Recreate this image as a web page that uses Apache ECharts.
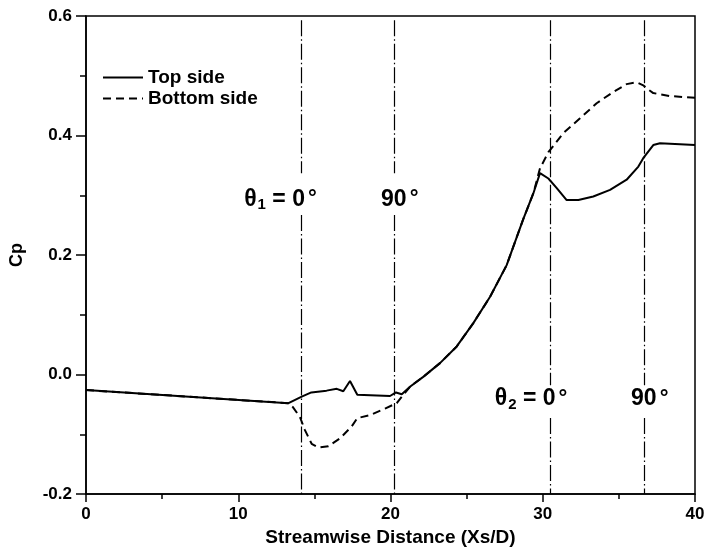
<!DOCTYPE html>
<html>
<head>
<meta charset="utf-8">
<script src="https://cdn.jsdelivr.net/npm/echarts@6/dist/echarts.min.js"></script>
<style>
  html, body { margin: 0; padding: 0; background: #fff; }
  #cpChart { width: 709px; height: 555px; }
</style>
</head>
<body>
<div id="cpChart"></div>
<script>
// Top side (solid)
var topX = [0, 13.3, 14.17, 14.8, 15.8, 16.47, 16.9, 17.34, 17.82, 19.97, 20.36, 20.74, 21.3, 22.15, 23.25, 24.35, 25.44, 26.54, 27.63, 28.72, 29.38, 29.82, 30.37, 30.92, 31.57, 32.34, 33.32, 34.42, 35.51, 36.28, 36.6, 37.26, 37.7, 40];
var topY = [-0.026, -0.048, -0.037, -0.030, -0.027, -0.024, -0.028, -0.011, -0.034, -0.036, -0.030, -0.033, -0.02, -0.004, 0.019, 0.047, 0.086, 0.130, 0.183, 0.26, 0.303, 0.337, 0.328, 0.312, 0.292, 0.292, 0.298, 0.309, 0.326, 0.348, 0.362, 0.384, 0.387, 0.384];
// Bottom side (dashed)
var bottomX = [0, 13.3, 13.6, 14.05, 14.38, 14.82, 15.26, 15.92, 16.68, 17.45, 17.82, 18.65, 19.64, 20.41, 20.84, 21.3, 22.15, 23.25, 24.35, 25.44, 26.54, 27.63, 28.72, 29.38, 29.82, 30.37, 31.35, 32.45, 33.54, 34.64, 35.51, 36.17, 36.6, 36.93, 37.26, 38.36, 40];
var bottomY = [-0.026, -0.048, -0.055, -0.071, -0.093, -0.116, -0.122, -0.120, -0.107, -0.087, -0.073, -0.068, -0.057, -0.048, -0.034, -0.02, -0.004, 0.019, 0.047, 0.086, 0.130, 0.183, 0.26, 0.303, 0.345, 0.372, 0.404, 0.429, 0.454, 0.473, 0.486, 0.489, 0.484, 0.477, 0.471, 0.466, 0.463];
// vertical dash-dot reference lines (theta positions), with a gap for the labels
var refX = [14.17, 20.26, 30.5, 36.68];
var refTop = [0.593, 0.593, 0.593, 0.593];
var refGapHi = [0.337, 0.337, -0.018, -0.018];
var refGapLo = [0.267, 0.267, -0.073, -0.073];
var refLabelY = [0.293, 0.293, -0.041, -0.041];
var refLabels = ["{t|θ}{s|1}{t| = 0}{d|°}", "{t|90}{d|°}", "{t|θ}{s|2}{t| = 0}{d|°}", "{t|90}{d|°}"];
var refLabelShift = [15, 24, 17, 24];

var xTicks = [0, 40, 10];
var yTicks = [-0.2, 0.6, 0.2];

var FONT = "Liberation Sans";

function zip(xs, ys) {
  var out = [];
  for (var i = 0; i < xs.length; i++) out.push([xs[i], ys[i]]);
  return out;
}

var refLines = [];
for (var i = 0; i < refX.length; i++) {
  refLines.push([{ coord: [refX[i], refTop[i]] }, { coord: [refX[i], refGapHi[i]] }]);
  refLines.push([{ coord: [refX[i], refGapLo[i]] }, { coord: [refX[i], yTicks[0]] }]);
}

var labelData = [];
for (var j = 0; j < refX.length; j++) {
  labelData.push({
    value: [refX[j], refLabelY[j]],
    label: { formatter: refLabels[j], offset: [refLabelShift[j], 0] }
  });
}

var textRich = {
  t: { fontFamily: FONT, fontWeight: "bold", fontSize: 23, color: "#000" },
  s: { fontFamily: FONT, fontWeight: "bold", fontSize: 15, color: "#000", padding: [11, 0, 0, 1] },
  d: { fontFamily: FONT, fontWeight: "bold", fontSize: 22, color: "#000", padding: [0, 0, 0, 3] }
};

var myChart = echarts.init(document.getElementById("cpChart"));
var option = {
  animation: false,
  backgroundColor: "#fff",
  grid: {
    left: 86, right: 14, top: 16, bottom: 61,
    show: true, borderColor: "#000", borderWidth: 1.5
  },
  legend: {
    orient: "vertical",
    left: 97, top: 63,
    itemWidth: 40, itemHeight: 14, itemGap: 2,
    itemStyle: { opacity: 0 },
    textStyle: { fontFamily: FONT, fontWeight: "bold", fontSize: 19, color: "#000" },
    data: ["Top side", "Bottom side"]
  },
  xAxis: {
    type: "value",
    min: xTicks[0], max: xTicks[1], interval: xTicks[2],
    name: "Streamwise Distance (Xs/D)",
    nameLocation: "middle", nameGap: 34,
    nameTextStyle: { fontFamily: FONT, fontWeight: "bold", fontSize: 19, color: "#000", verticalAlign: "top" },
    axisLine: { onZero: false, lineStyle: { color: "#000", width: 1.5 } },
    axisTick: { inside: false, length: 8, lineStyle: { color: "#000", width: 1.5 } },
    minorTick: { show: true, splitNumber: 2, length: 5, lineStyle: { color: "#000", width: 1.5 } },
    axisLabel: { fontFamily: FONT, fontWeight: "bold", fontSize: 17, color: "#000", margin: 12 },
    splitLine: { show: false }
  },
  yAxis: {
    type: "value",
    min: yTicks[0], max: yTicks[1], interval: yTicks[2],
    name: "Cp",
    nameLocation: "middle", nameGap: 60,
    nameTextStyle: { fontFamily: FONT, fontWeight: "bold", fontSize: 18, color: "#000" },
    axisLine: { onZero: false, lineStyle: { color: "#000", width: 1.5 } },
    axisTick: { inside: false, length: 10, lineStyle: { color: "#000", width: 1.5 } },
    minorTick: { show: true, splitNumber: 2, length: 6, lineStyle: { color: "#000", width: 1.5 } },
    axisLabel: {
      fontFamily: FONT, fontWeight: "bold", fontSize: 17, color: "#000", margin: 14,
      formatter: function (v) { return v.toFixed(1); }
    },
    splitLine: { show: false }
  },
  series: [
    {
      name: "Bottom side",
      type: "line",
      symbol: "none",
      lineStyle: { color: "#000", width: 2, type: [8, 5] },
      itemStyle: { color: "#000" },
      data: zip(bottomX, bottomY),
      z: 2
    },
    {
      name: "Top side",
      type: "line",
      symbol: "none",
      lineStyle: { color: "#000", width: 2 },
      itemStyle: { color: "#000" },
      data: zip(topX, topY),
      z: 3
    },
    {
      name: "ref",
      type: "scatter",
      symbolSize: 0,
      silent: true,
      itemStyle: { color: "#000", opacity: 1 },
      data: labelData,
      label: {
        show: true,
        position: "inside",
        align: "right",
        verticalAlign: "middle",
        color: "#000",
        opacity: 1,
        textBorderWidth: 0,
        fontFamily: FONT, fontWeight: "bold", fontSize: 23,
        rich: textRich
      },
      markLine: {
        silent: true,
        symbol: ["none", "none"],
        label: { show: false },
        lineStyle: { color: "#000", width: 1.2, type: [16, 3, 1.5, 3] },
        data: refLines
      },
      z: 1
    }
  ]
};
myChart.setOption(option);
</script>
</body>
</html>
